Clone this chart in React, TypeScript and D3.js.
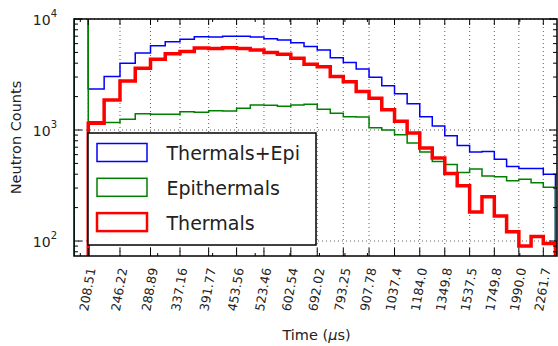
import React from 'react';
import * as d3 from 'd3';

// bin edges in microseconds (labelled edges + the in-between ones)
const binEdges = [193.5, 208.51, 226.6, 246.22, 266.7, 288.89, 312.1, 337.16, 363.4, 391.77, 421.5, 453.56, 487.3, 523.46, 561.6, 602.54, 645.7, 692.02, 740.9, 793.25, 848.6, 907.78, 970.4, 1037.4, 1108.3, 1184.0, 1264.2, 1349.8, 1440.6, 1537.5, 1640.2, 1749.8, 1866.1, 1990.0, 2121.5, 2261.7, 2410];

const tickLabels = ["208.51", "246.22", "288.89", "337.16", "391.77", "453.56", "523.46", "602.54", "692.02", "793.25", "907.78", "1037.4", "1184.0", "1349.8", "1537.5", "1749.8", "1990.0", "2261.7"];

const thermalsEpi = [20000, 2340, 3030, 4000, 4950, 5740, 6250, 6560, 6920, 6900, 6980, 6990, 6900, 6650, 6460, 6100, 5640, 5270, 4470, 4060, 3540, 2980, 2500, 2120, 1720, 1320, 1085, 890, 725, 635, 640, 545, 470, 450, 450, 400];
const epithermals = [20000, 1190, 1170, 1250, 1400, 1390, 1390, 1460, 1445, 1490, 1480, 1570, 1680, 1670, 1640, 1680, 1710, 1540, 1415, 1320, 1310, 1050, 1000, 905, 765, 635, 520, 490, 415, 445, 385, 380, 350, 360, 335, 305];
const thermals = [0, 1150, 1860, 2760, 3600, 4350, 4870, 5100, 5480, 5420, 5500, 5420, 5250, 5000, 4820, 4430, 3920, 3720, 3030, 2720, 2220, 1930, 1520, 1200, 940, 688, 560, 405, 315, 183, 250, 168, 121, 90, 110, 95];

const seriesNames = ["Thermals+Epi", "Epithermals", "Thermals"];
const seriesColors = ["#0000ff", "#008000", "#ff0000"];
const seriesWidths = [1.5, 1.5, 3.5];

const W = 558;
const H = 346;
const left = 74, right = 557, top = 19, bottom = 256;
const font = "'DejaVu Sans', sans-serif";

const x = d3.scaleLog().domain([193.5, 2430]).range([left, right]);
const y = d3.scaleLog().domain([73.3, 10000]).range([bottom, top]);

function stepPath(values: number[]) {
  const floor = 1;
  const pts: [number, number][] = [[binEdges[0], floor]];
  values.forEach((v, i) => {
    const vv = Math.max(v, floor);
    pts.push([binEdges[i], vv]);
    pts.push([binEdges[i + 1], vv]);
  });
  pts.push([binEdges[binEdges.length - 1], floor]);
  return d3.line<[number, number]>()
    .x(d => x(d[0]))
    .y(d => y(d[1]))(pts) as string;
}

export default function App() {
  const series = [thermalsEpi, epithermals, thermals];
  const majorX = tickLabels.map(t => parseFloat(t));
  const isDecade = (v: number) => Math.abs(Math.log10(v) - Math.round(Math.log10(v))) < 1e-9;
  const minorX = x.ticks().filter(t => !isDecade(t));
  const yTicks = y.ticks();
  const majorY = yTicks.filter(isDecade);
  const minorY = yTicks.filter(t => !isDecade(t));

  return (
    <svg width={W} height={H} style={{ position: 'absolute', left: 0, top: 0, background: '#fff' }} fontFamily={font}>
      <defs>
        <clipPath id="plot-clip">
          <rect x={left} y={top} width={right - left} height={bottom - top} />
        </clipPath>
      </defs>
      <rect x={0} y={0} width={W} height={H} fill="#fff" />

      {/* grid */}
      <g stroke="#000" strokeWidth={0.8} strokeDasharray="1,3" opacity={0.8}>
        {majorX.map((t, i) => (
          <line key={'gx' + i} x1={x(t)} x2={x(t)} y1={top} y2={bottom} />
        ))}
        {majorY.map((t, i) => (
          <line key={'gy' + i} x1={left} x2={right} y1={y(t)} y2={y(t)} />
        ))}
      </g>

      {/* histograms */}
      <g clipPath="url(#plot-clip)" fill="none" strokeLinejoin="miter">
        {series.map((s, i) => (
          <path key={seriesNames[i]} d={stepPath(s)} stroke={seriesColors[i]} strokeWidth={seriesWidths[i]} />
        ))}
      </g>

      {/* ticks */}
      <g stroke="#000" strokeWidth={1}>
        {majorX.map((t, i) => (
          <g key={'tx' + i}>
            <line x1={x(t)} x2={x(t)} y1={bottom} y2={bottom - 8} />
            <line x1={x(t)} x2={x(t)} y1={top} y2={top + 6} />
          </g>
        ))}
        {minorX.map((t, i) => (
          <g key={'mx' + i}>
            <line x1={x(t)} x2={x(t)} y1={bottom} y2={bottom - 3} />
            <line x1={x(t)} x2={x(t)} y1={top} y2={top + 3} />
          </g>
        ))}
        {majorY.map((t, i) => (
          <g key={'ty' + i}>
            <line x1={left} x2={left + 8} y1={y(t)} y2={y(t)} />
            <line x1={right} x2={right - 8} y1={y(t)} y2={y(t)} />
          </g>
        ))}
        {minorY.map((t, i) => (
          <g key={'my' + i}>
            <line x1={left} x2={left + 4} y1={y(t)} y2={y(t)} />
            <line x1={right} x2={right - 4} y1={y(t)} y2={y(t)} />
          </g>
        ))}
      </g>

      {/* frame */}
      <rect x={left} y={top} width={right - left} height={bottom - top} fill="none" stroke="#000" strokeWidth={1.5} />

      {/* x tick labels */}
      <g fontSize={12.5} fill="#222">
        {tickLabels.map((lab, i) => (
          <text key={'lx' + i} textAnchor="end" dy="0.35em"
            transform={`translate(${x(majorX[i]) + 3},${bottom + 12}) rotate(-80)`}>
            {lab}
          </text>
        ))}
      </g>

      {/* y tick labels */}
      <g fill="#222">
        {majorY.map((t, i) => (
          <text key={'ly' + i} x={57} y={y(t) + 6} textAnchor="end" fontSize={14}>
            10<tspan fontSize={10} dy={-8}>{Math.round(Math.log10(t))}</tspan>
          </text>
        ))}
      </g>

      {/* axis labels */}
      <text x={(left + right) / 2 + 1} y={340} textAnchor="middle" fontSize={14.5} fill="#222">
        Time (<tspan fontStyle="italic">μ</tspan>s)
      </text>
      <text transform={`translate(21,${(top + bottom) / 2}) rotate(-90)`} textAnchor="middle" fontSize={14.5} fill="#222">
        Neutron Counts
      </text>

      {/* legend */}
      <g>
        <rect x={88} y={133} width={228} height={112} fill="#fff" stroke="#000" strokeWidth={1.5} />
        {seriesNames.map((name, i) => {
          const cy = 152.5 + i * 34.8;
          return (
            <g key={'lg' + name}>
              <rect x={97} y={cy - 9} width={50} height={18} fill="none" stroke={seriesColors[i]} strokeWidth={i === 2 ? 2.5 : 1.5} />
              <text x={166.5} y={cy + 7.5} fontSize={19} fill="#222">{name}</text>
            </g>
          );
        })}
      </g>
    </svg>
  );
}
